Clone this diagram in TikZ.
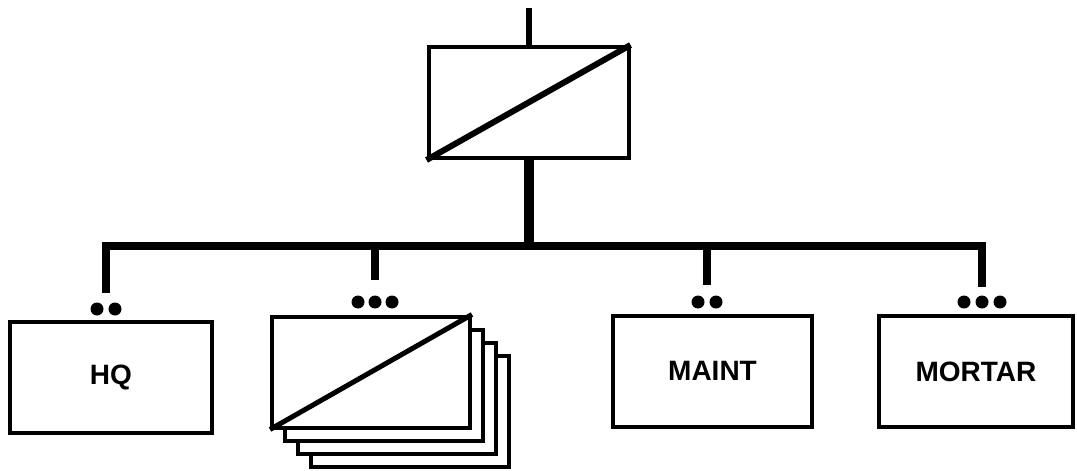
\documentclass[tikz,border=0pt]{standalone}
\usepackage{fontspec}
\setmainfont{Liberation Sans}
\begin{document}
\begin{tikzpicture}[x=0.5pt,y=-0.5pt,
    unit/.style={draw,line width=2pt,fill=white,minimum width=100pt,minimum height=55.5pt,inner sep=0pt,font=\fontsize{14}{16}\selectfont\bfseries},
    dot/.style={circle,fill,inner sep=0pt,minimum size=6.5pt},
    junct/.style={inner sep=0pt,minimum size=0pt},
    wire/.style={line width=4pt},
    slash/.style={line width=3pt}]
      \useasboundingbox (0,0) rectangle (1077,471);%

      % parent unit
      \node[unit] (T) at (528.5,102.5) {};%
      \coordinate (up) at (528.5,8);%
      \draw[line width=3pt] (up) -- (T.north);%
      \draw[slash] (T.south west) -- (T.north east);%

      % subordinate units
      \node[unit,minimum width=101pt] (HQ) at (111,377.5) {HQ};%
      \node[unit,minimum width=99pt] (S3) at (410,411) {};%
      \node[unit,minimum width=99pt] (S2) at (397,398) {};%
      \node[unit,minimum width=99pt] (S1) at (384,385) {};%
      \node[unit,minimum width=99pt] (S0) at (371,372) {};%
      \draw[slash,line width=2.5pt] (S0.south west) -- (S0.north east);%
      \node[unit,minimum width=99.5pt] (MA) at (712.5,371) {MAINT};%
      \node[unit,minimum width=97pt] (MO) at (976,371.5) {MORTAR};%

      % size dots
      \node[dot] (H1) at (97,309) {};%
      \node[dot] (H2) at (115,309) {};%
      \node[dot] (P1) at (358,302) {};%
      \node[dot] (P2) at (375,302) {};%
      \node[dot] (P3) at (392,302) {};%
      \node[dot] (M1) at (698,302) {};%
      \node[dot] (M2) at (716,302) {};%
      \node[dot] (R1) at (964,302) {};%
      \node[dot] (R2) at (982,302) {};%
      \node[dot] (R3) at (1000,302) {};%

      % bus
      \node[junct] (J0) at (528.5,246) {};%
      \node[junct] (J1) at (106,246) {};%
      \node[junct] (J2) at (375,246) {};%
      \node[junct] (J3) at (707,246) {};%
      \node[junct] (J4) at (982,246) {};%
      \coordinate (D1) at (106,293);%
      \coordinate (D2) at (375,280);%
      \coordinate (D3) at (707,285);%
      \coordinate (D4) at (982,287);%

      \draw[line width=5pt] (T.south) -- (J0);%
      \draw[wire,line join=miter] (D1) -- (J1.center) -- (J4.center) -- (D4);%
      \draw[wire] (J2.center) -- (D2);%
      \draw[wire] (J3.center) -- (D3);%
\end{tikzpicture}
\end{document}
